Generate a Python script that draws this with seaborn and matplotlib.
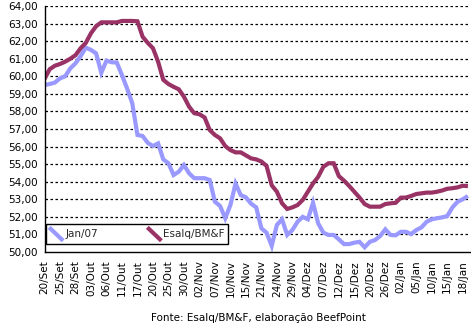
import numpy as np
import pandas as pd
import matplotlib
matplotlib.use("Agg")
import matplotlib.pyplot as plt
import seaborn as sns
from matplotlib.lines import Line2D
from matplotlib.legend_handler import HandlerBase
from matplotlib.ticker import FixedLocator, FuncFormatter

tick_labels = ["20/Set", "25/Set", "28/Set", "03/Out", "06/Out", "11/Out", "17/Out",
               "20/Out", "25/Out", "30/Out", "02/Nov", "07/Nov", "10/Nov", "15/Nov",
               "21/Nov", "24/Nov", "29/Nov", "04/Dez", "07/Dez", "12/Dez", "15/Dez",
               "20/Dez", "26/Dez", "02/Jan", "05/Jan", "10/Jan", "15/Jan", "18/Jan"]

jan07 = [59.50, 59.56, 59.64, 59.88, 60.00, 60.45, 60.74, 61.15, 61.63, 61.50,
         61.30, 60.20, 60.89, 60.80, 60.78, 60.07, 59.30, 58.46, 56.66, 56.60,
         56.21, 56.03, 56.18, 55.27, 55.05, 54.38, 54.57, 54.95, 54.48, 54.20,
         54.20, 54.20, 54.10, 52.86, 52.62, 51.92, 52.67, 53.90, 53.24, 53.11,
         52.75, 52.54, 51.35, 51.10, 50.35, 51.54, 51.86, 50.97, 51.25, 51.72,
         52.00, 51.86, 52.80, 51.63, 51.10, 50.97, 50.97, 50.72, 50.45, 50.45,
         50.53, 50.58, 50.27, 50.58, 50.68, 50.91, 51.29, 50.97, 50.95, 51.15,
         51.15, 51.02, 51.25, 51.40, 51.72, 51.86, 51.92, 51.97, 52.05, 52.54,
         52.86, 53.00, 53.19]

esalq = [59.85, 60.40, 60.60, 60.70, 60.83, 61.00, 61.20, 61.60, 61.90, 62.45,
         62.85, 63.07, 63.07, 63.07, 63.07, 63.15, 63.15, 63.15, 63.13, 62.25,
         61.90, 61.60, 60.83, 59.80, 59.56, 59.40, 59.26, 58.84, 58.27, 57.90,
         57.84, 57.66, 56.94, 56.66, 56.47, 56.03, 55.80, 55.67, 55.67, 55.50,
         55.33, 55.27, 55.15, 54.90, 53.80, 53.43, 52.77, 52.45, 52.54, 52.67,
         52.96, 53.43, 53.90, 54.28, 54.85, 55.05, 55.05, 54.32, 54.06, 53.76,
         53.43, 53.10, 52.73, 52.58, 52.58, 52.58, 52.73, 52.77, 52.80, 53.09,
         53.10, 53.19, 53.30, 53.34, 53.38, 53.38, 53.43, 53.50, 53.60, 53.63,
         53.68, 53.77, 53.75]

series_names = ["Jan/07", "Esalq/BM&F"]
colors = ["#9999FF", "#993366"]
y_ticks = list(range(50, 65))

n = len(jan07)
df = pd.DataFrame({
    "idx": list(range(n)) * 2,
    "valor": jan07 + esalq,
    "serie": [series_names[0]] * n + [series_names[1]] * n,
})

sns.set_theme(style="white")
plt.rcParams["font.family"] = ["DejaVu Sans"]

fig = plt.figure(figsize=(4.71, 3.26), dpi=100)
ax = fig.add_axes([44.5 / 471, 1 - 252 / 326, (470 - 44.5) / 471, 246 / 326])

sns.lineplot(data=df, x="idx", y="valor", hue="serie", palette=colors,
             hue_order=series_names, linewidth=3.0, ax=ax, legend=False,
             solid_capstyle="butt", solid_joinstyle="miter")

ax.set_xlim(0, 82.4)
ax.set_ylim(50, 64)
ax.set_xlabel("")
ax.set_ylabel("")

for v in y_ticks[1:]:
    ax.axhline(v, color="black", linewidth=0.9, linestyle=(0, (2, 2)), zorder=0)

ax.yaxis.set_major_locator(FixedLocator(y_ticks))
ax.yaxis.set_major_formatter(FuncFormatter(lambda v, p: f"{v:.2f}".replace(".", ",")))
ax.set_xticks(range(0, 83))
labels = [""] * 83
for k, t in enumerate(tick_labels):
    labels[3 * k] = t
ax.set_xticklabels(labels, rotation=90)

ax.tick_params(axis="both", which="both", direction="out", colors="black",
               labelsize=7.5, pad=1.5)
ax.tick_params(axis="y", length=3.5, width=0.9)
ax.tick_params(axis="x", length=4.5, width=0.9)

for s in ["top", "right"]:
    ax.spines[s].set_visible(False)
for s in ["left", "bottom"]:
    ax.spines[s].set_color("black")
    ax.spines[s].set_linewidth(1.0)


class DiagHandler(HandlerBase):
    def create_artists(self, legend, orig_handle, xdescent, ydescent,
                       width, height, fontsize, trans):
        l = Line2D([-xdescent, -xdescent + width],
                   [-ydescent + height, -ydescent],
                   color=orig_handle.get_color(),
                   linewidth=orig_handle.get_linewidth(),
                   solid_capstyle="butt")
        l.set_transform(trans)
        return [l]


handles = [Line2D([], [], color=c, linewidth=3.0) for c in colors]
leg = ax.legend(handles, series_names, handler_map={Line2D: DiagHandler()},
                loc="lower left", bbox_to_anchor=(0.0035, 0.033, 0.428, 0.09),
                mode="expand", ncol=2, fontsize=7.5, frameon=True,
                fancybox=False, handlelength=1.35, handleheight=1.6,
                handletextpad=0.2, borderpad=0.3, borderaxespad=0,
                columnspacing=1.0)
leg.get_frame().set_edgecolor("black")
leg.get_frame().set_linewidth(1.0)
leg.get_frame().set_alpha(1)

fig.text(258 / 471, 1 - 318 / 326, "Fonte: Esalq/BM&F, elaboração BeefPoint",
         ha="center", va="center", fontsize=7.5, color="black")

fig.savefig("out.png", dpi=100)
